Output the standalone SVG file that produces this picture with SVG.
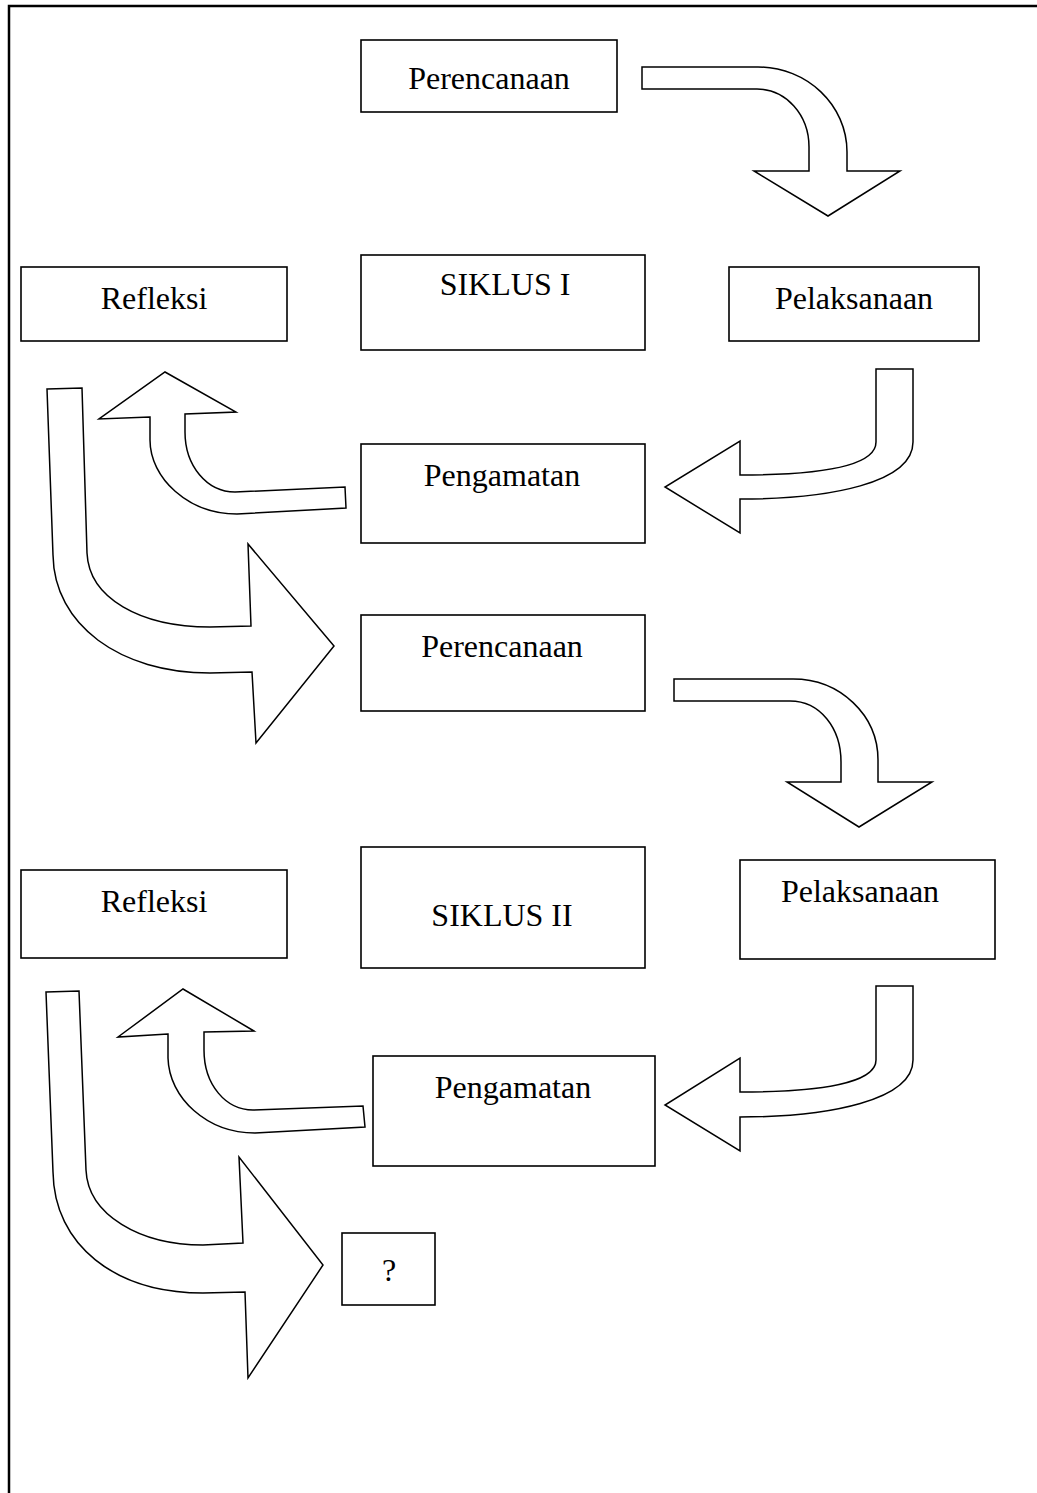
<svg xmlns="http://www.w3.org/2000/svg" width="1037" height="1493" viewBox="0 0 1037 1493">
<style>
.box{fill:#fff;stroke:#000;stroke-width:1.6}
.arr{fill:#fff;stroke:#000;stroke-width:1.5;stroke-linejoin:miter}
.t{font-family:"Liberation Serif","Times New Roman",serif;font-size:32px;fill:#000;text-anchor:middle}
</style>
<rect width="1037" height="1493" fill="#fff"/>
<path d="M9,1493 V6 H1037" fill="none" stroke="#000" stroke-width="2.5"/>
<g id="connectors">
<path class="arr" d="M642,67 H758 C807,67 847,105 847,152 V171 H900 L828,216 L754,171 H809 V147 C809,115 786,89 757,89 H642 Z"/>
<path class="arr" d="M876,369 H913 V442 C913,483 830,499 740,499 V533 L665,487 L740,441 V475 C820,475 876,466 876,442 Z"/>
<path class="arr" d="M150,417 L99,419 L165,372 L236,412 L185,414 V432 C185,466 207,492 235,492 L345,487 L346,508 L237,514 C188,514 150,478 150,440 Z"/>
<path class="arr" d="M47,389 L82,388 L87,553 C89,598 140,627 210,627 L251,626 L248,544 L334,646 L256,743 L252,672 L210,673 C120,673 54,625 53,555 Z"/>
<path class="arr" d="M674,679 H793 C840,679 878,715 878,760 V782 H932 L859,827 L787,782 H841 V762 C841,728 820,701 790,701 H674 Z"/>
<path class="arr" d="M876,986 H913 V1060 C913,1100 830,1117 740,1117 V1151 L665,1105 L740,1058 V1092 C820,1092 876,1083 876,1060 Z"/>
<path class="arr" d="M168,1034 L118,1037 L183,989 L254,1031 L204,1032 V1050 C204,1085 226,1110 253,1110 L363,1106 L365,1127 L255,1133 C207,1133 169,1098 168,1058 Z"/>
<path class="arr" d="M46,992 L79,991 L86,1170 C88,1215 140,1245 203,1245 L243,1243 L239,1157 L323,1265 L248,1378 L245,1292 L203,1293 C115,1293 54,1245 53,1172 Z"/>
</g>
<g id="perencanaan1"><rect class="box" x="361" y="40" width="256" height="72"/><text class="t" x="489" y="89">Perencanaan</text></g>
<g id="siklus1"><rect class="box" x="361" y="255" width="284" height="95"/><text class="t" x="505" y="295">SIKLUS I</text></g>
<g id="refleksi1"><rect class="box" x="21" y="267" width="266" height="74"/><text class="t" x="154" y="309">Refleksi</text></g>
<g id="pelaksanaan1"><rect class="box" x="729" y="267" width="250" height="74"/><text class="t" x="854" y="309">Pelaksanaan</text></g>
<g id="pengamatan1"><rect class="box" x="361" y="444" width="284" height="99"/><text class="t" x="502" y="486">Pengamatan</text></g>
<g id="perencanaan2"><rect class="box" x="361" y="615" width="284" height="96"/><text class="t" x="502" y="657">Perencanaan</text></g>
<g id="refleksi2"><rect class="box" x="21" y="870" width="266" height="88"/><text class="t" x="154" y="912">Refleksi</text></g>
<g id="siklus2"><rect class="box" x="361" y="847" width="284" height="121"/><text class="t" x="502" y="926">SIKLUS II</text></g>
<g id="pelaksanaan2"><rect class="box" x="740" y="860" width="255" height="99"/><text class="t" x="860" y="902">Pelaksanaan</text></g>
<g id="pengamatan2"><rect class="box" x="373" y="1056" width="282" height="110"/><text class="t" x="513" y="1098">Pengamatan</text></g>
<g id="q"><rect class="box" x="342" y="1233" width="93" height="72"/><text class="t" x="389" y="1281">?</text></g>
</svg>
